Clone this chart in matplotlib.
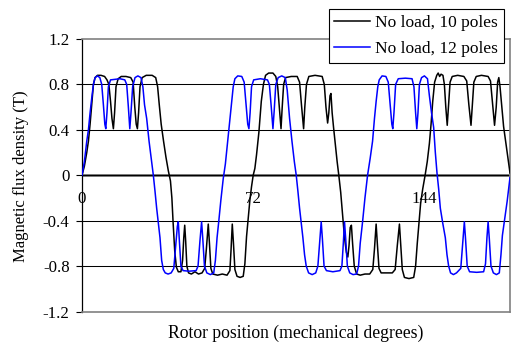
import matplotlib
matplotlib.use("Agg")
import matplotlib.pyplot as plt
from matplotlib.lines import Line2D

# ---- data ----
x_10 = [0, 1.0, 2.0, 2.7, 3.4, 4.1, 4.8, 5.5, 6.5, 8.0, 9.5, 10.5, 11.3, 12.0, 12.6, 13.2, 13.7, 14.3,
        15.2, 16.5, 18.5, 20.5, 21.5, 22.2, 22.8, 23.3, 23.8, 24.4, 25.3, 27, 29.5, 31.0, 31.8, 32.5,
        33.3, 34.3, 35.3, 36.3, 37.2, 37.8, 38.3, 39.0, 39.7, 40.5, 41.6, 42.3, 42.8, 43.2, 43.6, 44.1,
        44.8, 46, 47.5, 49, 50.5, 51.6, 52.3, 53.1, 53.6, 54.2, 55, 57, 59, 61, 62.2, 62.7, 63.2, 63.7,
        64.3, 65.2, 66.5, 67.8, 68.5, 69.2, 69.9, 70.6, 71.3, 72.0, 72.7, 73.4, 74.4, 75.4, 76.3, 77.2,
        78.5, 80.3, 81.5, 82.3, 83.0, 83.7, 84.2, 84.8, 85.6, 88, 90.5, 91.5, 92.3, 93.2, 93.7, 94.4,
        95.4, 98, 101, 101.9, 102.6, 103.3, 103.8, 104.3, 104.7, 105.2, 105.8, 106.5, 107.3, 108.0,
        108.8, 109.6, 110.4, 111.2, 111.8, 112.3, 112.8, 113.3, 113.8, 114.5, 115.5, 117, 119, 121,
        122.3, 123.0, 123.7, 124.2, 124.9, 125.8, 128, 130.5, 131.7, 132.6, 133.5, 134.0, 134.7, 135.6,
        137.5, 139.5, 140.3, 141.0, 141.7, 142.4, 143.3, 144.3, 145.2, 146.1, 146.8, 147.5, 148.3,
        149.2, 149.8, 150.4, 151.0, 151.8, 152.4, 153.0, 153.6, 154.1, 154.8, 155.7, 158, 160.6, 161.8,
        162.7, 163.6, 164.1, 164.8, 165.8, 168, 170.8, 171.8, 172.7, 173.5, 174.2, 174.8, 175.3, 175.8,
        176.5, 177.3, 178.3, 179.3, 180.0]
y_10 = [0.0, 0.08, 0.2, 0.3, 0.45, 0.62, 0.8, 0.86, 0.88, 0.88, 0.87, 0.84, 0.8, 0.65, 0.5, 0.41, 0.55, 0.78,
        0.85, 0.87, 0.87, 0.86, 0.82, 0.6, 0.45, 0.41, 0.55, 0.78, 0.86, 0.88, 0.88, 0.86, 0.78, 0.62,
        0.45, 0.3, 0.16, 0.04, -0.05, -0.2, -0.41, -0.67, -0.81, -0.85, -0.85, -0.75, -0.55, -0.44, -0.58, -0.8,
        -0.86, -0.87, -0.85, -0.87, -0.86, -0.82, -0.65, -0.43, -0.6, -0.82, -0.87, -0.88, -0.87, -0.88, -0.84, -0.65, -0.43, -0.6,
        -0.83, -0.89, -0.9, -0.89, -0.78, -0.54, -0.38, -0.22, -0.1, 0.0, 0.06, 0.18, 0.38, 0.65, 0.8, 0.88,
        0.9, 0.9, 0.87, 0.78, 0.6, 0.41, 0.6, 0.8, 0.86, 0.87, 0.87, 0.82, 0.62, 0.41, 0.6, 0.8,
        0.87, 0.88, 0.87, 0.8, 0.6, 0.46, 0.55, 0.7, 0.72, 0.55, 0.42, 0.28, 0.12, 0.0,
        -0.15, -0.35, -0.55, -0.68, -0.72, -0.62, -0.46, -0.44, -0.6, -0.8, -0.87, -0.88, -0.87, -0.87,
        -0.83, -0.65, -0.43, -0.6, -0.82, -0.86, -0.86, -0.86, -0.83, -0.62, -0.43, -0.6, -0.83, -0.9,
        -0.91, -0.9, -0.8, -0.6, -0.42, -0.25, -0.12, 0.0, 0.12, 0.28, 0.45, 0.65, 0.82,
        0.88, 0.9, 0.87, 0.89, 0.88, 0.8, 0.6, 0.44, 0.6, 0.82, 0.87, 0.88, 0.87, 0.83,
        0.62, 0.44, 0.6, 0.82, 0.87, 0.88, 0.87, 0.83, 0.62, 0.44, 0.6, 0.82, 0.86, 0.78,
        0.62, 0.43, 0.28, 0.13, 0.02]

x_12 = [0, 1.0, 2.0, 2.7, 3.4, 4.1, 4.8, 5.5, 6.5, 7.5, 8.3, 9.0, 9.6, 10.0, 10.5, 11.1, 12.0, 14, 16, 18,
        18.8, 19.5, 20.1, 20.6, 21.3, 22.3, 23.5, 24.8, 25.6, 26.3, 27.2, 28.2, 29.3, 30.0, 30.7, 31.4,
        32.1, 32.8, 33.5, 34.2, 35.0, 36.2, 37.5, 38.6, 39.5, 40.1, 40.5, 40.9, 41.6, 42.5, 45, 48, 48.8,
        49.6, 50.3, 50.8, 51.5, 52.5, 54, 55.4, 56.1, 56.8, 57.5, 58.4, 59.4, 60.3, 61.5, 62.2, 62.9,
        63.6, 64.3, 65.5, 67.2, 68.2, 69.0, 69.7, 70.2, 70.7, 71.3, 72.2, 75, 78, 78.8, 79.6, 80.3, 80.8,
        81.5, 82.5, 84, 85.5, 86.3, 87.3, 88.3, 89.3, 90.1, 90.8, 91.5, 92.2, 92.9, 93.6, 94.3, 95.3,
        96.8, 98.3, 99.2, 99.9, 100.6, 101.1, 101.8, 102.8, 105.5, 108.5, 109.3, 109.9, 110.4, 110.9,
        111.6, 112.6, 114, 115.5, 116.3, 117.0, 118.0, 119.0, 120.1, 121.2, 122.2, 123.0, 123.7, 124.4,
        125.0, 126.2, 127.8, 128.8, 129.6, 130.3, 130.7, 131.2, 131.9, 133, 136, 138.8, 139.6, 140.3,
        140.8, 141.3, 141.9, 142.8, 144, 145.3, 146.1, 147.0, 147.9, 148.6, 149.3, 150.0, 150.7, 151.7,
        152.8, 153.5, 154.2, 155.0, 156.2, 157.5, 159.3, 160.1, 160.8, 161.3, 162.0, 163, 166, 168.9,
        169.7, 170.3, 170.8, 171.3, 172.0, 173, 174.3, 175.5, 176.2, 176.8, 177.8, 178.8, 180.0]
y_12 = [0.0, 0.12, 0.3, 0.4, 0.55, 0.68, 0.8, 0.86, 0.875, 0.86, 0.8, 0.62, 0.45, 0.41, 0.55, 0.78, 0.84, 0.845, 0.85, 0.84,
        0.8, 0.6, 0.41, 0.55, 0.78, 0.86, 0.875, 0.86, 0.78, 0.62, 0.5, 0.3, 0.12, 0.0, -0.14, -0.29,
        -0.42, -0.55, -0.75, -0.83, -0.86, -0.87, -0.86, -0.82, -0.6, -0.45, -0.41, -0.56, -0.8, -0.84, -0.845, -0.84, -0.8,
        -0.58, -0.41, -0.56, -0.8, -0.86, -0.875, -0.86, -0.75, -0.55, -0.41, -0.22, -0.03, 0.1, 0.35, 0.5, 0.65,
        0.78, 0.85, 0.875, 0.87, 0.82, 0.62, 0.45, 0.41, 0.55, 0.78, 0.84, 0.85, 0.84, 0.8, 0.6, 0.41, 0.56,
        0.8, 0.86, 0.875, 0.86, 0.75, 0.5, 0.3, 0.12, 0.0, -0.14, -0.29, -0.42, -0.55, -0.7, -0.8, -0.86,
        -0.875, -0.86, -0.8, -0.6, -0.41, -0.56, -0.8, -0.84, -0.85, -0.84, -0.8, -0.6, -0.41, -0.56,
        -0.8, -0.86, -0.875, -0.87, -0.8, -0.6, -0.41, -0.2, 0.0, 0.15, 0.3, 0.5, 0.65, 0.78,
        0.84, 0.875, 0.87, 0.82, 0.62, 0.45, 0.41, 0.55, 0.8, 0.85, 0.855, 0.85, 0.78, 0.55,
        0.41, 0.55, 0.8, 0.86, 0.875, 0.85, 0.7, 0.55, 0.42, 0.2, 0.02, -0.12, -0.29, -0.42,
        -0.55, -0.7, -0.8, -0.86, -0.875, -0.86, -0.82, -0.6, -0.41, -0.56, -0.8, -0.85, -0.855, -0.85,
        -0.78, -0.55, -0.41, -0.56, -0.8, -0.86, -0.875, -0.86, -0.7, -0.53, -0.38, -0.23, -0.02]

series_labels = ["No load, 10 poles", "No load, 12 poles"]
y_ticks = [-1.2, -0.8, -0.4, 0, 0.4, 0.8, 1.2]
y_tick_labels = ["-1.2", "-0.8", "-0.4", "0", "0.4", "0.8", "1.2"]
x_ticks = [0, 72, 144]
x_tick_labels = ["0", "72", "144"]
x_label = "Rotor position (mechanical degrees)"
y_label = "Magnetic flux density (T)"

# ---- figure ----
W, H = 512, 345
plt.rcParams['font.family'] = ['Liberation Serif', 'DejaVu Serif']
plt.rcParams['font.size'] = 12
fig = plt.figure(figsize=(W / 100, H / 100), dpi=100)
ax = fig.add_axes([82 / W, 1 - 311.5 / H, (510 - 82) / W, (311.5 - 39) / H])
ax.set_xlim(0, 180)
ax.set_ylim(-1.2, 1.2)

gray = '#808080'
for v in [-0.8, -0.4, 0.4, 0.8]:
    ax.axhline(v, color='black', lw=0.75, zorder=1)
ax.axhline(0, color=gray, lw=2.0, zorder=1)
ax.axhline(0, color='black', lw=0.9, zorder=1.1)

ax.plot(x_10, y_10, color='black', lw=1.1, zorder=3, label=series_labels[0])
ax.plot(x_12, y_12, color='#0000ff', lw=1.1, zorder=4, label=series_labels[1])

for s in ['top', 'right', 'bottom']:
    ax.spines[s].set_color(gray)
    ax.spines[s].set_linewidth(1.2)
ax.spines['left'].set_color('black')
ax.spines['left'].set_linewidth(0.9)

ax.set_yticks(y_ticks)
ax.set_yticklabels(y_tick_labels)
ax.tick_params(axis='y', direction='out', length=4, width=0.8, pad=5, labelsize=12.2)
ax.set_xticks([])

# x tick labels placed under the zero line
for xv, lab in zip(x_ticks, x_tick_labels):
    ax.annotate(lab, xy=(xv, 0), xytext=(0, -16), textcoords='offset pixels',
                ha='center', va='top', fontsize=12.2)

fig.text(296 / W, 1 - 333 / H, x_label, ha='center', va='center', fontsize=12.7)
fig.text(21 / W, 1 - 176 / H, y_label, ha='center', va='center', rotation=90, fontsize=12)

handles = [Line2D([], [], color='black', lw=1.1), Line2D([], [], color='#0000ff', lw=1.1)]
leg = fig.legend(handles, series_labels, loc='upper right',
                 bbox_to_anchor=(504 / W, 1 - 9 / H), fontsize=12.5,
                 frameon=True, fancybox=False, framealpha=1, edgecolor='black',
                 handlelength=2.07, handletextpad=0.3, borderpad=0.33, labelspacing=0.6,
                 borderaxespad=0)
leg.get_frame().set_linewidth(0.8)
leg.set_zorder(10)

fig.savefig('out.png', dpi=100)
